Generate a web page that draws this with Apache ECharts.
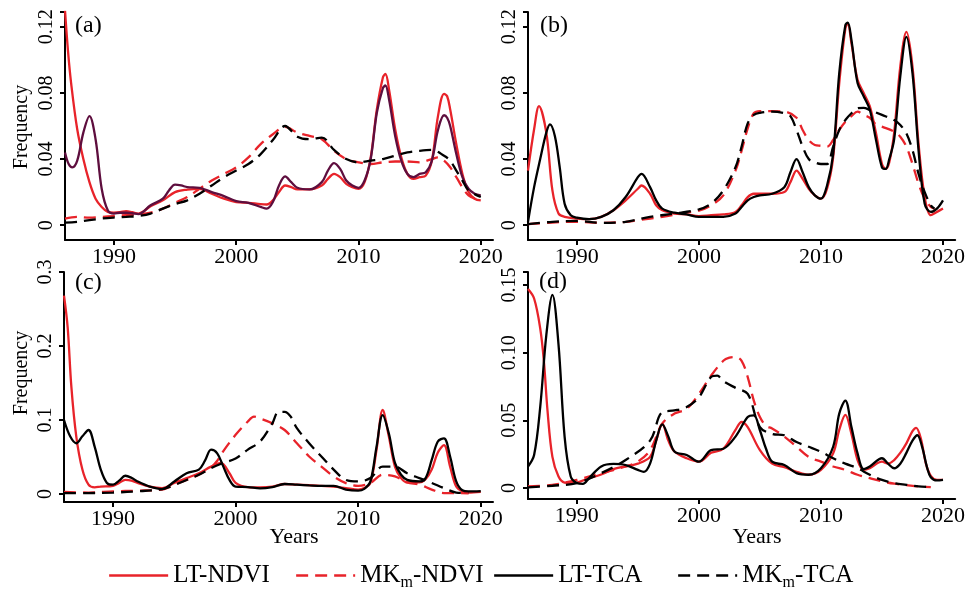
<!DOCTYPE html>
<html>
<head>
<meta charset="utf-8">
<script src="https://cdn.jsdelivr.net/npm/echarts@6/dist/echarts.min.js"></script>
<style>
  html, body { margin: 0; padding: 0; background: #fff; }
  #chart { width: 968px; height: 591px; }
</style>
</head>
<body>
<div id="chart"></div>
<script>
// ---- x axis (years) ----
const yearTicks = [1990, 2000, 2010, 2020];
const yearLabels = ['1990', '2000', '2010', '2020'];

// ---- y axis ticks per panel ----
const ticksAB = [0, 0.04, 0.08, 0.12];
const labelsAB = ['0', '0.04', '0.08', '0.12'];
const ticksC = [0, 0.1, 0.2, 0.3];
const labelsC = ['0', '0.1', '0.2', '0.3'];
const ticksD = [0, 0.05, 0.10, 0.15];
const labelsD = ['0', '0.05', '0.10', '0.15'];

const seriesNames = ['LT-NDVI', 'MKm-NDVI', 'LT-TCA', 'MKm-TCA'];

// ---- panel (a) ----
const ltNdviA = [[1986,0.13],[1986.25,0.105],[1986.5,0.086],[1987,0.058],[1987.5,0.040],[1988,0.026],[1988.5,0.016],[1989,0.011],[1989.5,0.008],[1990,0.0075],[1990.5,0.0078],[1991,0.0085],[1991.5,0.0078],[1992,0.007],[1993,0.0115],[1994,0.015],[1995,0.020],[1996,0.0215],[1997,0.022],[1998,0.019],[1999,0.016],[2000,0.014],[2001,0.0135],[2002,0.0127],[2002.5,0.0125],[2003,0.015],[2003.5,0.020],[2004,0.024],[2004.5,0.023],[2005,0.0216],[2006,0.0216],[2007,0.024],[2007.5,0.028],[2008,0.031],[2008.5,0.029],[2009,0.025],[2009.5,0.023],[2010,0.022],[2010.5,0.026],[2011,0.041],[2011.5,0.070],[2012,0.0895],[2012.2,0.0915],[2012.5,0.082],[2013,0.058],[2013.5,0.041],[2014,0.031],[2014.5,0.028],[2015,0.029],[2015.5,0.030],[2016,0.039],[2016.5,0.066],[2017,0.0795],[2017.25,0.078],[2017.5,0.070],[2018,0.049],[2018.5,0.031],[2019,0.020],[2019.5,0.016],[2020,0.015]];
const mkNdviA = [[1986,0.004],[1987,0.005],[1988,0.0045],[1989,0.005],[1990,0.0055],[1991,0.006],[1992,0.0065],[1993,0.0075],[1994,0.010],[1995,0.0135],[1996,0.017],[1997,0.022],[1998,0.027],[1999,0.031],[2000,0.035],[2001,0.041],[2002,0.049],[2003,0.055],[2004,0.0595],[2005,0.056],[2006,0.054],[2007,0.052],[2008,0.045],[2009,0.040],[2010,0.038],[2011,0.037],[2012,0.038],[2013,0.0385],[2014,0.0385],[2015,0.038],[2016,0.040],[2016.5,0.041],[2017,0.039],[2017.5,0.035],[2018,0.029],[2019,0.018],[2020,0.015]];
const ltTcaA = [[1986,0.044],[1986.3,0.037],[1986.6,0.035],[1987,0.039],[1987.5,0.056],[1988,0.066],[1988.5,0.052],[1989,0.022],[1989.5,0.009],[1990,0.007],[1990.5,0.0075],[1991,0.0075],[1991.5,0.0072],[1992,0.0067],[1993,0.012],[1994,0.016],[1994.5,0.021],[1995,0.0245],[1995.5,0.024],[1996,0.023],[1997,0.0226],[1998,0.020],[1999,0.0176],[2000,0.0145],[2001,0.0135],[2002,0.011],[2002.5,0.010],[2003,0.014],[2003.5,0.024],[2004,0.0295],[2004.5,0.026],[2005,0.0226],[2006,0.0216],[2007,0.026],[2007.5,0.033],[2008,0.0375],[2008.5,0.034],[2009,0.027],[2009.5,0.024],[2010,0.0226],[2010.5,0.027],[2011,0.040],[2011.5,0.068],[2012,0.083],[2012.2,0.0845],[2012.5,0.076],[2013,0.054],[2013.5,0.039],[2014,0.031],[2014.5,0.029],[2015,0.031],[2015.5,0.032],[2016,0.039],[2016.5,0.0576],[2017,0.0665],[2017.25,0.065],[2017.5,0.060],[2018,0.043],[2018.5,0.029],[2019,0.022],[2019.5,0.019],[2020,0.018]];
const mkTcaA = [[1986,0.0015],[1987,0.002],[1988,0.003],[1989,0.004],[1990,0.0046],[1991,0.005],[1992,0.0055],[1993,0.007],[1994,0.010],[1995,0.0127],[1996,0.015],[1997,0.019],[1998,0.024],[1999,0.029],[2000,0.033],[2001,0.037],[2002,0.043],[2003,0.0515],[2004,0.060],[2005,0.0535],[2006,0.052],[2007,0.053],[2008,0.0455],[2009,0.040],[2010,0.038],[2011,0.039],[2012,0.040],[2013,0.042],[2014,0.044],[2015,0.045],[2016,0.0455],[2017,0.042],[2017.5,0.039],[2018,0.033],[2018.5,0.027],[2019,0.021],[2020,0.017]];

// ---- panel (b) ----
const ltNdviB = [[1986,0.033],[1986.5,0.058],[1986.9,0.072],[1987.5,0.056],[1988,0.021],[1988.5,0.007],[1989,0.005],[1990,0.004],[1991,0.0036],[1992,0.005],[1993,0.009],[1994,0.015],[1995,0.022],[1995.3,0.024],[1996,0.019],[1996.5,0.012],[1997,0.009],[1998,0.007],[1999,0.0065],[2000,0.0055],[2001,0.006],[2002,0.0065],[2003,0.008],[2003.5,0.012],[2004,0.017],[2004.5,0.019],[2005,0.019],[2006,0.019],[2007,0.020],[2007.5,0.026],[2008,0.033],[2008.5,0.028],[2009,0.022],[2009.5,0.018],[2010,0.016],[2010.5,0.022],[2011,0.041],[2011.5,0.086],[2012,0.119],[2012.2,0.122],[2012.5,0.110],[2013,0.088],[2013.5,0.080],[2014,0.072],[2014.5,0.056],[2015,0.037],[2015.3,0.034],[2015.6,0.038],[2016,0.056],[2016.5,0.096],[2017,0.117],[2017.5,0.096],[2018,0.049],[2018.5,0.017],[2019,0.006],[2019.5,0.008],[2020,0.010]];
const mkNdviB = [[1986,0.0006],[1988,0.0016],[1990,0.002],[1992,0.0014],[1994,0.002],[1995,0.003],[1997,0.005],[1999,0.0077],[2000,0.0087],[2001,0.012],[2002,0.018],[2003,0.033],[2003.5,0.045],[2004,0.0586],[2004.5,0.0677],[2005,0.069],[2006,0.069],[2007,0.0687],[2008,0.065],[2008.5,0.0576],[2009,0.0515],[2009.5,0.0485],[2010,0.048],[2010.5,0.0475],[2011,0.0515],[2011.5,0.0576],[2012,0.0626],[2012.5,0.066],[2013,0.0687],[2013.5,0.0667],[2014,0.065],[2014.5,0.061],[2015,0.0596],[2016,0.0566],[2016.5,0.0535],[2017,0.0475],[2017.5,0.037],[2018,0.025],[2018.5,0.016],[2019,0.011],[2019.3,0.010]];
const ltTcaB = [[1986,0.002],[1986.5,0.023],[1987,0.040],[1987.5,0.056],[1987.8,0.061],[1988.2,0.054],[1988.6,0.035],[1989,0.013],[1989.5,0.006],[1990,0.0045],[1991,0.0036],[1992,0.005],[1993,0.009],[1994,0.017],[1995,0.029],[1995.3,0.031],[1996,0.023],[1996.5,0.015],[1997,0.010],[1998,0.0075],[1999,0.0065],[2000,0.005],[2001,0.005],[2002,0.005],[2003,0.007],[2003.5,0.011],[2004,0.015],[2004.5,0.017],[2005,0.018],[2006,0.019],[2007,0.023],[2007.5,0.032],[2008,0.040],[2008.5,0.032],[2009,0.023],[2009.5,0.018],[2010,0.016],[2010.5,0.024],[2011,0.043],[2011.5,0.092],[2012,0.121],[2012.2,0.1226],[2012.5,0.112],[2013,0.086],[2013.5,0.078],[2014,0.070],[2014.5,0.052],[2015,0.035],[2015.3,0.034],[2015.6,0.040],[2016,0.052],[2016.5,0.090],[2017,0.114],[2017.5,0.092],[2018,0.045],[2018.5,0.013],[2019,0.008],[2019.5,0.010],[2020,0.015]];
const mkTcaB = [[1986,0.0006],[1988,0.002],[1990,0.0026],[1992,0.0014],[1994,0.002],[1996,0.005],[1998,0.007],[2000,0.0095],[2001,0.013],[2002,0.021],[2003,0.035],[2003.5,0.0475],[2004,0.0616],[2004.5,0.0667],[2005,0.068],[2006,0.0687],[2007,0.0677],[2007.5,0.066],[2008,0.0576],[2008.5,0.0475],[2009,0.040],[2009.5,0.038],[2010,0.037],[2010.5,0.037],[2011,0.0475],[2011.5,0.0576],[2012,0.0636],[2012.5,0.0677],[2013,0.0707],[2013.5,0.071],[2014,0.0697],[2015,0.0667],[2016,0.0636],[2016.5,0.0606],[2017,0.0556],[2017.5,0.0455],[2018,0.031],[2018.5,0.020],[2019,0.012],[2019.3,0.010]];

// ---- panel (c) ----
const ltNdviC = [[1986,0.268],[1986.3,0.225],[1986.6,0.145],[1987,0.078],[1987.5,0.033],[1988,0.0126],[1988.5,0.009],[1989,0.010],[1990,0.011],[1990.5,0.015],[1991,0.019],[1991.5,0.018],[1992,0.015],[1993,0.010],[1994,0.008],[1995,0.015],[1996,0.0215],[1997,0.028],[1998,0.037],[1998.8,0.042],[1999.5,0.028],[2000,0.015],[2001,0.0094],[2002,0.009],[2003,0.010],[2004,0.0135],[2005,0.0126],[2006,0.012],[2007,0.011],[2008,0.010],[2009,0.008],[2010,0.006],[2010.5,0.008],[2011,0.015],[2011.5,0.060],[2012,0.1135],[2012.5,0.078],[2013,0.037],[2013.5,0.0215],[2014,0.0157],[2015,0.0157],[2015.5,0.020],[2016,0.033],[2016.5,0.056],[2017,0.066],[2017.5,0.037],[2018,0.010],[2018.5,0.0036],[2019,0.002],[2020,0.003]];
const mkNdviC = [[1986,0.0027],[1988,0.002],[1990,0.0036],[1992,0.0045],[1994,0.006],[1995,0.0126],[1996,0.019],[1997,0.026],[1998,0.036],[1998.5,0.045],[1999,0.058],[2000,0.080],[2001,0.098],[2001.5,0.1045],[2002,0.102],[2003,0.0955],[2004,0.0865],[2005,0.0686],[2006,0.0507],[2007,0.037],[2008,0.0238],[2009,0.0148],[2010,0.011],[2011,0.015],[2012,0.026],[2013,0.0238],[2014,0.0157],[2015,0.0126],[2016,0.006],[2017,0.0013],[2018,0.0013],[2019,0.001]];
const ltTcaC = [[1986,0.100],[1986.5,0.078],[1987,0.0686],[1987.5,0.078],[1988,0.0865],[1988.5,0.064],[1989,0.033],[1989.5,0.015],[1990,0.0126],[1990.5,0.018],[1991,0.0247],[1991.5,0.022],[1992,0.017],[1993,0.010],[1994,0.0067],[1995,0.017],[1996,0.028],[1997,0.033],[1997.5,0.045],[1998,0.060],[1998.5,0.055],[1999,0.037],[1999.5,0.019],[2000,0.010],[2001,0.0094],[2002,0.0076],[2003,0.0094],[2004,0.0135],[2005,0.0126],[2006,0.0117],[2007,0.011],[2008,0.011],[2009,0.006],[2010,0.0045],[2010.5,0.007],[2011,0.017],[2011.5,0.064],[2012,0.1067],[2012.5,0.082],[2013,0.042],[2013.5,0.026],[2014,0.019],[2015,0.017],[2015.5,0.0215],[2016,0.046],[2016.5,0.071],[2017,0.0753],[2017.5,0.0507],[2018,0.017],[2018.5,0.005],[2019,0.0036],[2020,0.004]];
const mkTcaC = [[1986,0.0013],[1988,0.0013],[1990,0.002],[1992,0.0036],[1994,0.0067],[1995,0.012],[1996,0.019],[1997,0.026],[1998,0.035],[1999,0.042],[2000,0.048],[2001,0.060],[2002,0.071],[2003,0.0955],[2003.5,0.111],[2004,0.111],[2004.5,0.1045],[2005,0.089],[2006,0.0686],[2007,0.0507],[2008,0.033],[2009,0.019],[2010,0.017],[2011,0.0215],[2012,0.037],[2013,0.037],[2014,0.028],[2015,0.0215],[2016,0.015],[2017,0.008],[2018,0.002],[2019,0.0013]];

// ---- panel (d) ----
const ltNdviD = [[1986,0.147],[1986.5,0.140],[1987,0.118],[1987.3,0.094],[1987.6,0.057],[1988,0.023],[1988.5,0.0085],[1989,0.004],[1989.5,0.0037],[1990,0.004],[1991,0.0073],[1992,0.010],[1993,0.014],[1994,0.016],[1995,0.018],[1996,0.023],[1996.5,0.035],[1997,0.0476],[1997.5,0.035],[1998,0.027],[1999,0.022],[2000,0.0195],[2001,0.026],[2002,0.029],[2003,0.043],[2003.5,0.0488],[2004,0.045],[2005,0.028],[2006,0.018],[2007,0.0154],[2008,0.012],[2009,0.0098],[2010,0.0134],[2011,0.0256],[2011.5,0.043],[2012,0.054],[2012.5,0.040],[2013,0.0207],[2013.5,0.0134],[2014,0.0146],[2015,0.0195],[2015.5,0.018],[2016,0.0207],[2016.5,0.026],[2017,0.033],[2017.5,0.042],[2017.8,0.0445],[2018.2,0.036],[2018.6,0.018],[2019,0.009],[2019.5,0.006],[2020,0.006]];
const mkNdviD = [[1986,0.0012],[1988,0.0024],[1990,0.006],[1992,0.011],[1994,0.0159],[1995,0.0195],[1996,0.028],[1997,0.0476],[1998,0.055],[1999,0.0585],[2000,0.0695],[2001,0.083],[2002,0.094],[2002.5,0.0963],[2003,0.0968],[2003.5,0.094],[2004,0.082],[2004.5,0.0646],[2005,0.0524],[2005.5,0.046],[2006,0.044],[2007,0.038],[2008,0.0305],[2009,0.023],[2010,0.0195],[2011,0.0159],[2012,0.0134],[2013,0.0098],[2014,0.0073],[2015,0.0049],[2016,0.0032],[2017,0.0022],[2018,0.0012],[2019,0.0007]];
const ltTcaD = [[1986,0.0159],[1986.5,0.0244],[1987,0.0598],[1987.5,0.113],[1988,0.1427],[1988.5,0.106],[1989,0.0378],[1989.5,0.0085],[1990,0.0037],[1990.5,0.003],[1991,0.0073],[1992,0.0159],[1993,0.0178],[1994,0.017],[1995,0.0134],[1995.5,0.012],[1996,0.018],[1996.5,0.035],[1997,0.047],[1997.5,0.038],[1998,0.027],[1999,0.0244],[2000,0.0195],[2001,0.028],[2002,0.029],[2003,0.038],[2004,0.0524],[2004.5,0.0537],[2005,0.0427],[2005.5,0.029],[2006,0.0195],[2007,0.017],[2008,0.011],[2009,0.0098],[2010,0.0146],[2011,0.0305],[2011.5,0.055],[2012,0.0646],[2012.5,0.045],[2013,0.0256],[2013.5,0.014],[2014,0.0159],[2015,0.022],[2015.5,0.018],[2016,0.0146],[2016.5,0.018],[2017,0.026],[2017.5,0.035],[2017.9,0.039],[2018.3,0.030],[2018.7,0.015],[2019,0.008],[2019.5,0.0056],[2020,0.006]];
const mkTcaD = [[1986,0.0005],[1988,0.0017],[1990,0.0037],[1992,0.011],[1994,0.0207],[1996,0.035],[1997,0.056],[1998,0.0573],[1999,0.0598],[2000,0.067],[2001,0.082],[2001.5,0.083],[2002,0.079],[2003,0.074],[2004,0.0695],[2005,0.045],[2006,0.040],[2007,0.039],[2008,0.034],[2009,0.0305],[2010,0.0268],[2011,0.022],[2012,0.018],[2013,0.0146],[2014,0.0098],[2015,0.006],[2016,0.0037],[2017,0.0024],[2018,0.0012],[2019,0.0007]];

// ---- drawing ----
const FONT = 'Liberation Serif';
const RED = '#e8232a';
const BLACK = '#000000';
const MAROON = '#5e0e3e';
const DASH = [12, 7];
const LINE_W = 2.3;

const panels = [
  { grid: { left: 65, top: 12, width: 428, height: 228 }, yMin: -0.009, yMax: 0.129, ticks: ticksAB, labels: labelsAB,
    data: [ltNdviA, mkNdviA, ltTcaA, mkTcaA], tcaColor: MAROON },
  { grid: { left: 528, top: 12, width: 430, height: 228 }, yMin: -0.009, yMax: 0.129, ticks: ticksAB, labels: labelsAB,
    data: [ltNdviB, mkNdviB, ltTcaB, mkTcaB], tcaColor: BLACK },
  { grid: { left: 64, top: 272, width: 429, height: 230 }, yMin: -0.0108, yMax: 0.3, ticks: ticksC, labels: labelsC,
    data: [ltNdviC, mkNdviC, ltTcaC, mkTcaC], tcaColor: BLACK },
  { grid: { left: 528, top: 272, width: 430, height: 227 }, yMin: -0.0081, yMax: 0.1596, ticks: ticksD, labels: labelsD,
    data: [ltNdviD, mkNdviD, ltTcaD, mkTcaD], tcaColor: BLACK }
];

const axisLineStyle = { color: BLACK, width: 2 };

const grids = panels.map(p => p.grid);
const xAxes = panels.map((p, i) => ({
  type: 'value', gridIndex: i, min: 1986, max: 2021,
  axisLine: { show: true, onZero: false, lineStyle: axisLineStyle },
  axisTick: { show: true, customValues: yearTicks, length: 5, lineStyle: axisLineStyle },
  axisLabel: {
    customValues: yearTicks, margin: 6, color: BLACK, fontFamily: FONT, fontSize: 22,
    formatter: v => yearLabels[yearTicks.indexOf(v)]
  },
  splitLine: { show: false }
}));
const yAxes = panels.map((p, i) => ({
  type: 'value', gridIndex: i, min: p.yMin, max: p.yMax,
  axisLine: { show: true, onZero: false, lineStyle: axisLineStyle },
  // labelled ticks plus a closing tick at the top end of the axis
  axisTick: { show: true, customValues: p.ticks.concat([p.yMax]), length: 5, lineStyle: axisLineStyle },
  axisLabel: {
    customValues: p.ticks, rotate: 90, margin: 8, color: BLACK, fontFamily: FONT, fontSize: 20,
    formatter: v => {
      const k = p.ticks.findIndex(t => Math.abs(t - v) < 1e-9);
      return k >= 0 ? p.labels[k] : '';
    }
  },
  splitLine: { show: false }
}));

// line styles in legend order: LT-NDVI, MKm-NDVI, LT-TCA, MKm-TCA
const lineStyles = [
  { color: RED, type: 'solid' },
  { color: RED, type: DASH },
  { color: BLACK, type: 'solid' },
  { color: BLACK, type: DASH }
];

const series = [];
panels.forEach((p, i) => {
  p.data.forEach((d, k) => {
    const color = k === 2 ? p.tcaColor : lineStyles[k].color;
    series.push({
      name: seriesNames[k], type: 'line', xAxisIndex: i, yAxisIndex: i,
      data: d, showSymbol: false, symbol: 'none',
      smooth: 0.35,
      lineStyle: { color: color, width: LINE_W, type: lineStyles[k].type },
      itemStyle: { color: color },
      z: 2 + k, silent: true, animation: false
    });
  });
});

const legendLefts = [108, 295, 493, 677];
const legendRich = {
  a: { fontFamily: FONT, fontSize: 25, color: BLACK },
  m: { fontFamily: FONT, fontSize: 16, color: BLACK, padding: [14, 0, 0, 0] }
};
const legends = seriesNames.map((n, k) => ({
  data: [{
    name: n,
    itemStyle: { color: 'rgba(0,0,0,0)', borderWidth: 0, opacity: 0 },
    lineStyle: { color: lineStyles[k].color, width: LINE_W, type: lineStyles[k].type }
  }],
  left: legendLefts[k], top: 563, padding: 0,
  itemWidth: 59, itemHeight: 14, itemGap: 0, selectedMode: false,
  textStyle: { fontFamily: FONT, fontSize: 25, color: BLACK, rich: legendRich },
  formatter: name => name.startsWith('MKm')
    ? '{a|MK}{m|m}{a|' + name.slice(3) + '}'
    : '{a|' + name + '}'
}));

const panelTags = [
  { text: '(a)', left: 75, top: 14 },
  { text: '(b)', left: 540, top: 14 },
  { text: '(c)', left: 75, top: 271 },
  { text: '(d)', left: 539, top: 270 }
];
const titles = panelTags.map(t => ({
  text: t.text, left: t.left, top: t.top, padding: 0,
  textStyle: { fontFamily: FONT, fontSize: 24, fontWeight: 'normal', color: BLACK }
}));

const graphic = [
  { type: 'text', x: 22, y: 127, rotation: Math.PI / 2,
    style: { text: 'Frequency', font: '20px "Liberation Serif"', fill: BLACK, align: 'center', verticalAlign: 'middle' } },
  { type: 'text', x: 22, y: 373, rotation: Math.PI / 2,
    style: { text: 'Frequency', font: '20px "Liberation Serif"', fill: BLACK, align: 'center', verticalAlign: 'middle' } },
  { type: 'text', x: 294, y: 537,
    style: { text: 'Years', font: '22px "Liberation Serif"', fill: BLACK, align: 'center', verticalAlign: 'middle' } },
  { type: 'text', x: 757, y: 537,
    style: { text: 'Years', font: '22px "Liberation Serif"', fill: BLACK, align: 'center', verticalAlign: 'middle' } }
];

const chart = echarts.init(document.getElementById('chart'), null, { renderer: 'canvas' });
chart.setOption({
  backgroundColor: '#ffffff',
  animation: false,
  title: titles,
  legend: legends,
  grid: grids,
  xAxis: xAxes,
  yAxis: yAxes,
  series: series,
  graphic: graphic
});
</script>
</body>
</html>
